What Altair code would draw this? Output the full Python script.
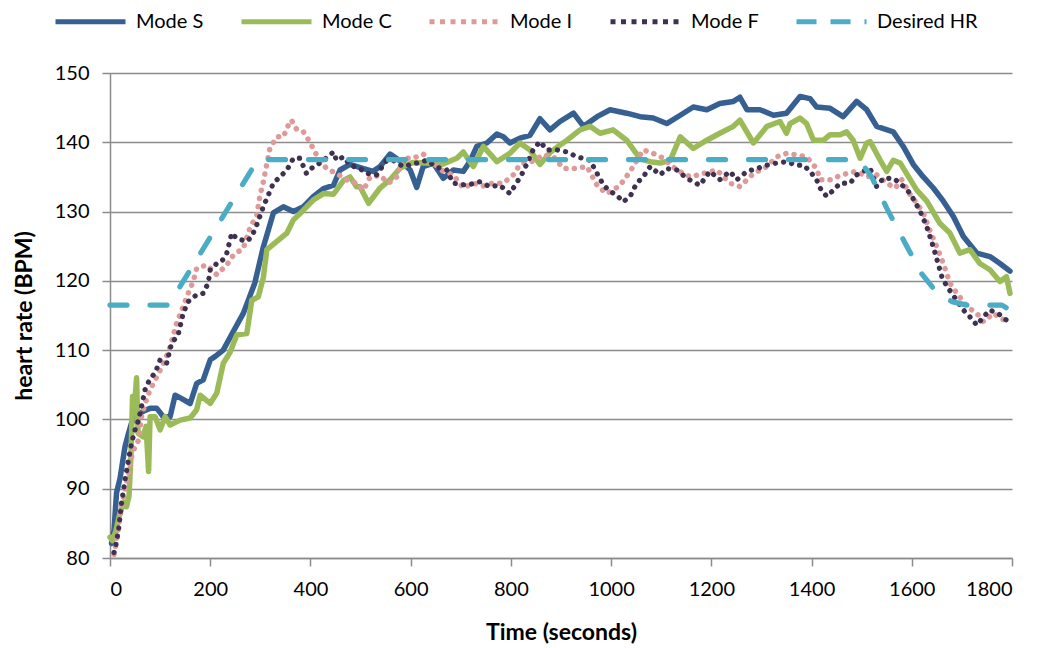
import altair as alt
import pandas as pd

# ---- data (time in s, heart rate in BPM) ----
SERIES = ["Mode S", "Mode C", "Mode I", "Mode F", "Desired HR"]
COLORS = ["#376092", "#9BBB59", "#DE9A98", "#3F3151", "#4BACC6"]

MODE_S = [(3, 82.1), (8, 84), (13, 89.4), (20, 91.5), (30, 96.1), (37, 98), (43, 99.5), (50, 100.5),
          (60, 100.9), (70, 101.3), (80, 101.6), (93, 101.6), (100, 101), (106, 100.4), (120, 100.4),
          (130, 103.5), (143, 103), (160, 102.3), (173, 105.2), (186, 105.7), (200, 108.6), (210, 109.1),
          (226, 110.0), (246, 112.7), (266, 115.3), (276, 117.2), (289, 119.7), (306, 124.9), (326, 129.8),
          (346, 130.7), (366, 130), (386, 130.7), (406, 132.2), (426, 133.3), (446, 133.8), (459, 136),
          (479, 136.8), (506, 136.2), (525, 135.8), (539, 136.5), (559, 138.3), (579, 137.3), (599, 136),
          (612, 133.5), (625, 136.5), (645, 137), (665, 134.8), (685, 136), (705, 135.8), (718, 137.2),
          (732, 139.4), (752, 139.9), (772, 141.2), (785, 140.8), (798, 139.9), (818, 140.6), (838, 141),
          (858, 143.4), (878, 141.8), (898, 143), (925, 144.2), (945, 142.3), (972, 143.7), (998, 144.7),
          (1031, 144.2), (1058, 143.7), (1084, 143.5), (1111, 142.7), (1138, 143.9), (1164, 145.1),
          (1191, 144.7), (1217, 145.6), (1244, 145.9), (1257, 146.5), (1271, 144.7), (1297, 144.7),
          (1324, 143.9), (1350, 144.2), (1377, 146.6), (1397, 146.3), (1410, 145.1), (1437, 144.9),
          (1463, 143.7), (1490, 145.9), (1510, 144.7), (1530, 142.3), (1563, 141.5), (1583, 139.4),
          (1603, 136.8), (1623, 135), (1643, 133.4), (1663, 131.5), (1683, 129.3), (1703, 126.4),
          (1730, 124), (1756, 123.5), (1776, 122.5), (1796, 121.4)]

MODE_C = [(0, 83), (5, 82.5), (12, 84), (20, 86.5), (28, 88), (33, 87.4), (38, 89), (42, 95), (45, 103.3),
          (48, 101), (53, 106), (56, 98), (66, 97.5), (72, 99), (77, 92.5), (80, 100.4), (90, 100.4),
          (100, 98.5), (110, 100.4), (120, 99.2), (140, 99.9), (160, 100.2), (173, 101.4), (180, 103.5),
          (200, 102.3), (213, 103.8), (226, 108.1), (239, 109.6), (253, 112.2), (273, 112.4), (283, 117.2),
          (296, 117.7), (306, 120.5), (313, 124.5), (333, 125.7), (353, 126.9), (366, 128.8), (386, 130.2),
          (406, 131.7), (426, 132.6), (446, 132.5), (466, 134.5), (479, 135), (492, 133.6), (499, 133.6),
          (516, 131.2), (539, 133.4), (559, 134.6), (579, 136.3), (605, 137.1), (632, 137), (659, 136.7),
          (692, 137.7), (705, 138.6), (725, 136.5), (745, 139.4), (772, 137.2), (798, 138.4), (818, 139.9),
          (838, 138.9), (858, 136.8), (878, 138.5), (898, 139.6), (912, 140.3), (938, 141.8), (958, 142.3),
          (978, 141.3), (1004, 141.8), (1031, 140.3), (1058, 137.6), (1078, 137.2), (1098, 137),
          (1118, 137.4), (1138, 140.8), (1164, 139.1), (1191, 140.3), (1217, 141.3), (1244, 142.3),
          (1257, 143.2), (1284, 139.9), (1311, 142.3), (1337, 143), (1350, 141.3), (1357, 142.7),
          (1377, 143.5), (1390, 142.7), (1404, 140.3), (1424, 140.3), (1437, 141.1), (1457, 141.1),
          (1470, 141.5), (1483, 140.3), (1497, 137.7), (1510, 139.9), (1517, 140.1), (1537, 137.4),
          (1550, 135.8), (1563, 137.4), (1577, 137), (1597, 134.6), (1610, 133.1), (1630, 131.5),
          (1656, 128.3), (1676, 126.9), (1696, 124), (1716, 124.5), (1736, 122.5), (1756, 121.6),
          (1776, 119.9), (1789, 120.6), (1796, 118.2)]

MODE_I = [(8, 80.5), (10, 81.2), (17, 84.5), (23, 87.4), (30, 90), (37, 92.2), (43, 94.6), (50, 96.1),
          (57, 97), (63, 100.4), (70, 102.3), (80, 104.3), (90, 105.7), (100, 107.1), (110, 108.6),
          (120, 110.5), (133, 113.9), (146, 116.3), (156, 118.2), (166, 119.9), (173, 121.8), (193, 122.3),
          (213, 120.9), (233, 122.3), (246, 123.7), (266, 124.7), (279, 127.6), (293, 129.5), (299, 132.2),
          (306, 134.3), (319, 139.1), (333, 140.8), (346, 140.8), (356, 142.5), (362, 143.2), (373, 141.8),
          (386, 141.5), (399, 140), (412, 138.2), (432, 136.2), (452, 135.5), (472, 134.6), (492, 134.1),
          (506, 133.1), (519, 135), (539, 135.2), (556, 134.1), (572, 135), (585, 137.7), (605, 137.7),
          (625, 138.3), (645, 137), (665, 135.8), (685, 135.3), (705, 133.4), (725, 134.1), (745, 133.7),
          (765, 134.1), (785, 134.1), (805, 135.3), (818, 136.8), (845, 137.3), (865, 138.2), (885, 137.9),
          (905, 136.2), (925, 136.2), (952, 136.5), (972, 133.8), (991, 132.6), (1004, 133.1),
          (1018, 133.8), (1038, 135.8), (1064, 138.9), (1084, 138.4), (1104, 137.7), (1131, 136),
          (1158, 135), (1184, 135.5), (1211, 136), (1237, 134.1), (1257, 133.6), (1284, 135.5),
          (1311, 136.5), (1330, 137.9), (1350, 138.4), (1370, 138.2), (1390, 137.9), (1410, 136.2),
          (1417, 134.6), (1437, 134.6), (1450, 135), (1470, 135.5), (1490, 135.8), (1510, 135),
          (1530, 135.3), (1550, 134.1), (1567, 133.4), (1580, 134.6), (1597, 132.4), (1610, 131.2),
          (1623, 129.8), (1636, 127.3), (1650, 124.9), (1663, 122.5), (1676, 119.7), (1690, 118.2),
          (1710, 116.3), (1730, 115.3), (1743, 114.1), (1763, 115.3), (1783, 114.4), (1796, 114.8)]

MODE_F = [(8, 80.8), (10, 81.2), (17, 84), (23, 87.9), (30, 91.3), (37, 94.2), (43, 96.6), (50, 98.5),
          (57, 99.9), (63, 101.9), (70, 104.3), (80, 105.9), (90, 106.7), (100, 108.6), (113, 108.1),
          (123, 111), (136, 112.2), (146, 115.3), (156, 117), (173, 118), (186, 118.2), (196, 119.7),
          (200, 121.6), (213, 122.5), (223, 122.8), (233, 124), (243, 126.9), (253, 126.1), (273, 125.7),
          (283, 126.4), (293, 128.1), (306, 130.7), (316, 132.4), (326, 134.1), (339, 135), (353, 136),
          (366, 137.7), (379, 137.7), (392, 135.5), (406, 136.5), (419, 137), (446, 138.6), (452, 137.4),
          (466, 137.9), (479, 136.7), (499, 136.2), (512, 135.5), (532, 135.3), (552, 137.4), (565, 137.4),
          (585, 136.5), (612, 137), (632, 137.4), (652, 136.4), (672, 136), (685, 134.1), (712, 133.8),
          (738, 134.3), (758, 133.6), (778, 133.8), (798, 132.6), (812, 134.2), (825, 135.8), (845, 139),
          (858, 140.1), (872, 138.9), (892, 138.9), (912, 138.6), (932, 137.9), (958, 137.4), (972, 135.5),
          (985, 133.8), (998, 132.9), (1011, 132.4), (1024, 131.4), (1038, 132.2), (1051, 134.1),
          (1064, 135), (1078, 136.5), (1098, 135.3), (1111, 136.2), (1131, 136), (1151, 134.8),
          (1177, 133.8), (1197, 135.8), (1217, 134.6), (1237, 135.8), (1251, 134.6), (1271, 135.8),
          (1291, 136.2), (1311, 136.7), (1330, 137), (1350, 137.2), (1370, 136.7), (1384, 136.7),
          (1397, 135.8), (1410, 134.6), (1417, 133.4), (1430, 132.2), (1444, 133.1), (1457, 134.1),
          (1477, 134.1), (1490, 135.3), (1503, 135.8), (1517, 136.2), (1530, 133.6), (1543, 134.8),
          (1563, 134.8), (1577, 134.1), (1597, 132.6), (1617, 130), (1630, 127.8), (1643, 124.9),
          (1660, 120.6), (1670, 119.2), (1680, 118.2), (1693, 116.8), (1703, 115.8), (1716, 114.8),
          (1730, 113.6), (1743, 114.8), (1756, 115.8), (1776, 115.1), (1796, 113.9)]

DESIRED = [(0, 116.5), (117, 116.5), (295, 137.5), (1480, 137.5), (1500, 137), (1520, 135), (1550, 130.5),
           (1590, 125), (1620, 121), (1650, 118.3), (1680, 117), (1710, 116.5), (1780, 116.5), (1800, 115.6)]

X_TICKS = list(range(0, 1801, 200))
Y_TICKS = list(range(80, 151, 10))

rows = []
for name, pts in zip(SERIES, [MODE_S, MODE_C, MODE_I, MODE_F, DESIRED]):
    for t, hr in pts:
        rows.append({"series": name, "t": t, "hr": hr})
df = pd.DataFrame(rows)

FONT = "Lato"
color_scale = alt.Scale(domain=SERIES, range=COLORS)

x_enc = alt.X("t:Q", scale=alt.Scale(domain=[0, 1800], nice=False, zero=False),
              axis=alt.Axis(values=X_TICKS, title="Time (seconds)", grid=False, format="d",
                            tickSize=8, labelPadding=13, titlePadding=22))
y_enc = alt.Y("hr:Q", scale=alt.Scale(domain=[80, 150], nice=False, zero=False),
              axis=alt.Axis(values=Y_TICKS, title="heart rate (BPM)", grid=True, format="d",
                            tickSize=8, labelPadding=13, titlePadding=18))

line_styles = {
    "Mode S": dict(strokeWidth=5.5, strokeCap="round"),
    "Mode C": dict(strokeWidth=5.5, strokeCap="round"),
    "Mode I": dict(strokeWidth=5.5, strokeDash=[0.1, 8.2], strokeCap="round"),
    "Mode F": dict(strokeWidth=5.2, strokeDash=[0.1, 8.2], strokeCap="round"),
    "Desired HR": dict(strokeWidth=5.2, strokeDash=[17, 23], strokeCap="round"),
}

layers = []
for name, col in zip(SERIES, COLORS):
    layers.append(
        alt.Chart(df)
        .transform_filter(alt.datum.series == name)
        .mark_line(strokeJoin="round", color=col, **line_styles[name])
        .encode(x=x_enc, y=y_enc)
    )

legend = alt.Legend(title=None, orient="none", direction="horizontal", legendX=-57, legendY=-89,
                    symbolType="stroke", symbolSize=4900, symbolStrokeWidth=5,
                    labelFont=FONT, labelFontSize=20, labelColor="#000000", labelOffset=8,
                    columnPadding=27, padding=0, labelLimit=300)

# legend-only layer (no rows drawn): carries the colour and dash scales for the legend
legend_layer = (
    alt.Chart(df)
    .transform_filter("datum.t < -1")
    .mark_line(strokeWidth=5)
    .encode(
        x=x_enc, y=y_enc,
        color=alt.Color("series:N", scale=color_scale, legend=legend),
        strokeDash=alt.StrokeDash("series:N",
                                  scale=alt.Scale(domain=SERIES,
                                                  range=[[1, 0], [1, 0], [5, 5.5], [5, 5.5], [20, 14]]),
                                  legend=legend),
    )
)

chart = (
    alt.layer(*layers, legend_layer)
    .properties(width=902, height=485,
                autosize=alt.AutoSizeParams(type="none"),
                padding={"left": 102, "top": 65, "right": 25, "bottom": 88})
    .configure_view(stroke=None)
    .configure_axis(labelFont=FONT, labelFontSize=20, labelColor="#000000",
                    titleFont=FONT, titleFontSize=23, titleFontWeight="bold", titleColor="#000000",
                    gridColor="#8C8C8C", gridWidth=1.5, domainColor="#8C8C8C", domainWidth=1.5,
                    tickColor="#8C8C8C", tickWidth=1.5)
)

chart.save("out.html", embed_options={"renderer": "svg", "actions": False})
